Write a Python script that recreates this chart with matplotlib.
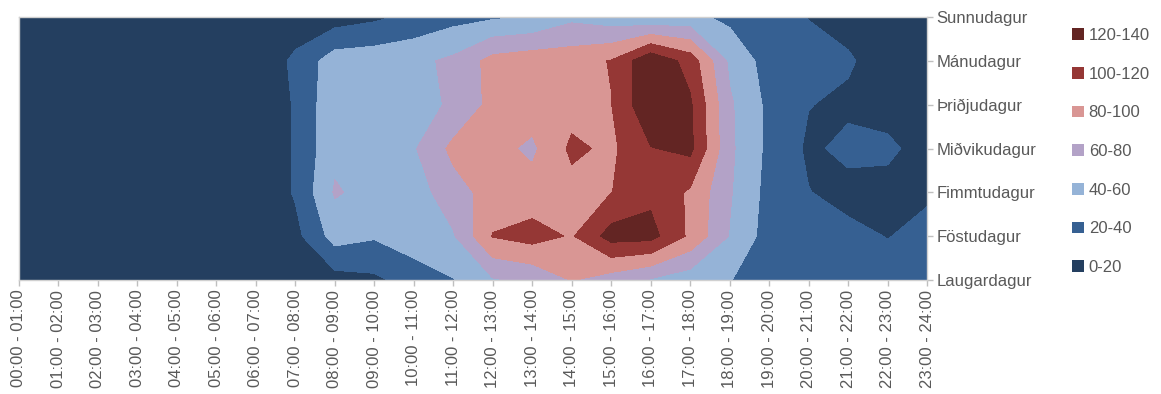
import numpy as np
import matplotlib
matplotlib.use("Agg")
import matplotlib.pyplot as plt
from matplotlib.patches import Patch

plt.rcParams["font.family"] = ["Liberation Sans", "DejaVu Sans"]

hours = ["00:00 - 01:00", "01:00 - 02:00", "02:00 - 03:00", "03:00 - 04:00",
         "04:00 - 05:00", "05:00 - 06:00", "06:00 - 07:00", "07:00 - 08:00",
         "08:00 - 09:00", "09:00 - 10:00", "10:00 - 11:00", "11:00 - 12:00",
         "12:00 - 13:00", "13:00 - 14:00", "14:00 - 15:00", "15:00 - 16:00",
         "16:00 - 17:00", "17:00 - 18:00", "18:00 - 19:00", "19:00 - 20:00",
         "20:00 - 21:00", "21:00 - 22:00", "22:00 - 23:00", "23:00 - 24:00"]

days = ["Sunnudagur", "Mánudagur", "Þriðjudagur", "Miðvikudagur",
        "Fimmtudagur", "Föstudagur", "Laugardagur"]

sunnudagur   = [8, 5, 3, 2, 1, 2, 2, 5, 10, 16, 25, 33, 37, 40.5, 55, 48, 42, 45, 35, 27, 19.5, 14, 10, 8]
manudagur    = [6, 3, 2, 1, 1, 1, 1, 25, 50, 52, 55, 64, 87, 92, 92, 101, 137, 112, 56, 31, 26, 22, 12, 10]
thridjudagur = [5, 3, 2, 1, 1, 1, 2, 22, 55, 52, 52, 63, 86, 90, 92, 99.5, 138, 123, 63, 35, 20.5, 17, 14, 12]
midvikudagur = [5, 3, 2, 1, 1, 1, 2, 22, 55, 52, 58, 85, 86, 76, 104, 96, 119, 125, 64, 35, 17, 24, 23, 14]
fimmtudagur  = [6, 3, 2, 1, 1, 1, 2, 22, 62, 53, 50, 72, 88, 88, 93, 99.5, 115, 97, 62, 33, 20.5, 15, 15, 18]
fostudagur   = [8, 5, 3, 2, 1, 2, 3, 14, 48, 42, 52, 58, 101, 108, 98, 128, 127, 96, 59, 31, 27, 24, 19.5, 24]
laugardagur  = [10, 7, 5, 3, 2, 2, 4, 8, 12, 16, 28, 39, 58, 64, 81, 70, 58, 48, 40.5, 33, 30, 28, 27, 27]

levels = [0, 20, 40, 60, 80, 100, 120, 140]
band_labels = ["0-20", "20-40", "40-60", "60-80", "80-100", "100-120", "120-140"]
band_colors = ["#243f60", "#366092", "#95b3d7", "#b3a2c7", "#d99694", "#953735", "#632523"]

Z = np.array([sunnudagur, manudagur, thridjudagur, midvikudagur,
              fimmtudagur, fostudagur, laugardagur])
xs = np.arange(len(hours))
ys = np.arange(len(days))

W, H = 1161, 394
fig = plt.figure(figsize=(W / 100, H / 100), dpi=100)
ax = fig.add_axes([19 / W, 1 - 280 / H, (927 - 19) / W, (280 - 17) / H])

ax.contourf(xs, ys, Z, levels=levels, colors=band_colors)
ax.set_xlim(xs[0], xs[-1])
ax.set_ylim(ys[-1], ys[0])

text_color = "#595959"
ax.set_xticks(xs)
ax.set_xticklabels(hours, rotation=90, fontsize=12, color=text_color)
ax.yaxis.tick_right()
ax.set_yticks(ys)
ax.set_yticklabels(days, fontsize=12, color=text_color)
ax.tick_params(axis="both", color="#bfbfbf", length=4, width=1, direction="out")
ax.tick_params(axis="x", pad=3)
ax.tick_params(axis="y", pad=3)
for s in ax.spines.values():
    s.set_color("#d0d0d0")
    s.set_linewidth(1)

handles = [Patch(facecolor=c, edgecolor="none") for c in band_colors[::-1]]
fig.legend(handles, band_labels[::-1], loc="upper left",
           bbox_to_anchor=(1072 / W, 1 - 28 / H), frameon=False, fontsize=12,
           handlelength=0.7, handleheight=0.7, handletextpad=0.3,
           labelspacing=1.42, borderpad=0, borderaxespad=0, labelcolor=text_color)

fig.savefig("out.png", dpi=100)
